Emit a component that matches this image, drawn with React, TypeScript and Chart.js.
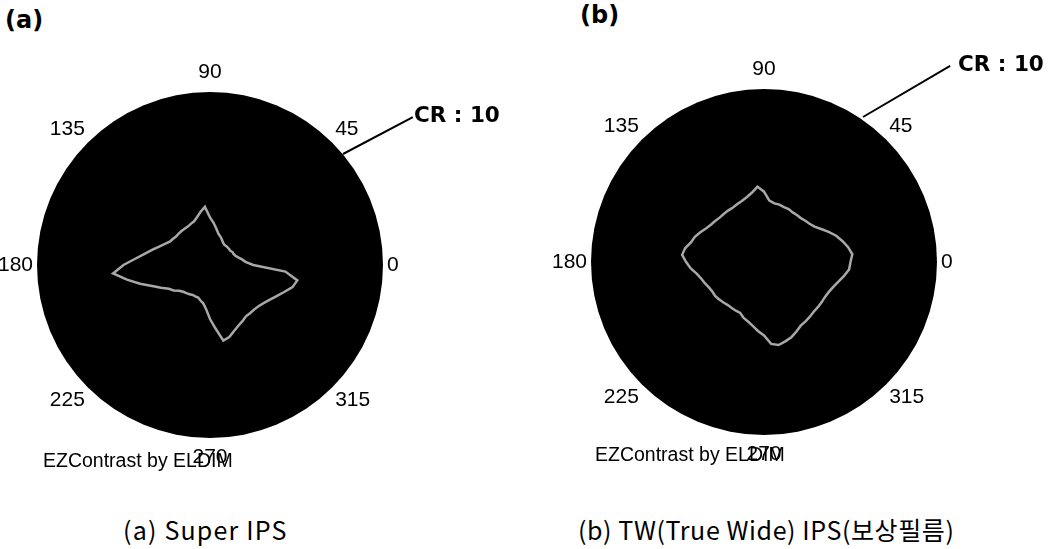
import React, { useEffect, useRef } from "react";
import { Chart, registerables } from "chart.js";

Chart.register(...registerables);

// Azimuth angles (degrees, counter-clockwise from 0 at the right)
const ANGLES = [
  0, 5, 10, 15, 20, 25, 30, 35, 40, 45, 50, 55, 60, 65, 70, 75, 80, 85,
  90, 95, 100, 105, 110, 115, 120, 125, 130, 135, 140, 145, 150, 155, 160, 165, 170, 175,
  180, 185, 190, 195, 200, 205, 210, 215, 220, 225, 230, 235, 240, 245, 250, 255, 260, 265,
  270, 275, 280, 285, 290, 295, 300, 305, 310, 315, 320, 325, 330, 335, 340, 345, 350, 355,
];

// CR = 10 iso-contrast contour: polar (viewing) angle in degrees at each azimuth
const SUPER_IPS = [
  20, 16.5, 15, 13.5, 12.5, 12, 12, 11.5, 11.5, 11.5, 11.5, 11.5, 12, 13, 14, 15, 17, 19.5,
  22, 27, 25, 23, 21.5, 21, 20.5, 20.5, 20.5, 20.5, 20.5, 21, 21.5, 23, 25, 27.5, 30.5, 34.5,
  40, 45, 39, 33.5, 28.5, 25, 22, 20.5, 18.5, 17.5, 17, 16.5, 16, 16, 16, 17, 18, 20.5,
  25, 29.5, 35.5, 34.5, 32.5, 31, 30, 29, 29, 29, 29.5, 30.5, 32, 34, 36.5, 39.5, 41, 35,
];

const TW_IPS = [
  40, 41, 39.5, 37.5, 35.5, 33, 30.5, 28.5, 27.5, 27, 26.5, 26.5, 26.5, 27, 27, 27.5, 27.5, 28.5,
  32.5, 35, 32.5, 31, 30, 29.5, 29, 29, 29, 29, 29.5, 30, 31, 32.5, 34, 35, 37, 38,
  36, 34, 31.5, 30, 29, 28, 27.5, 27.5, 27, 26.5, 26, 26, 26, 26, 27.5, 28.5, 30, 32,
  34, 38, 39, 38, 37, 35.5, 34, 33.5, 33, 32.5, 32.5, 32.5, 32.5, 33, 34, 35.5, 37.5, 39.5,
];

const ANGLE_TICKS = [0, 45, 90, 135, 180, 225, 270, 315];
const R_MAX = 80;

const diskPlugin = {
  id: "disk",
  beforeDatasetsDraw(chart: any) {
    const s = chart.scales.r;
    const ctx = chart.ctx;
    ctx.save();
    ctx.fillStyle = "#000";
    ctx.beginPath();
    ctx.arc(s.xCenter, s.yCenter, s.drawingArea, 0, Math.PI * 2);
    ctx.fill();
    ctx.restore();
  },
};

function PolarPlot({ values, left, top }: { values: number[]; left: number; top: number }) {
  const ref = useRef<HTMLCanvasElement | null>(null);
  useEffect(() => {
    if (!ref.current) return;
    const N = ANGLES.length;
    const start = ANGLES.indexOf(90);
    const order = ANGLES.map((_, k) => (start - k + N) % N);
    const labels = order.map((i) => ANGLES[i]);
    const data = order.map((i) => values[i]);
    const chart = new Chart(ref.current, {
      type: "radar",
      data: {
        labels,
        datasets: [
          {
            data,
            borderColor: "#a8a8a8",
            borderWidth: 2.5,
            pointRadius: 0,
            fill: false,
            tension: 0,
          },
        ],
      },
      options: {
        animation: false,
        responsive: false,
        devicePixelRatio: 1,
        layout: { padding: 0 },
        plugins: { legend: { display: false }, tooltip: { enabled: false } },
        scales: {
          r: {
            min: 0,
            max: R_MAX,
            startAngle: 0,
            grid: { display: false },
            angleLines: { display: false },
            ticks: { display: false },
            pointLabels: {
              display: true,
              padding: (ctx: any) => {
                const a = Number(ctx.label);
                return a === 90 || a === 270 ? 9 : 4;
              },
              color: "#000",
              font: {
                family: "'Liberation Sans', Arial, sans-serif",
                size: 21,
                lineHeight: 1,
              },
              callback: (l: any) => (ANGLE_TICKS.includes(Number(l)) ? String(l) : ""),
            },
          },
        },
      } as any,
      plugins: [diskPlugin],
    });
    return () => chart.destroy();
  }, [values]);
  return (
    <canvas
      ref={ref}
      width={500}
      height={406}
      style={{ position: "absolute", left, top, width: 500, height: 406 }}
    />
  );
}

function Line({ x1, y1, x2, y2 }: { x1: number; y1: number; x2: number; y2: number }) {
  const dx = x2 - x1;
  const dy = y2 - y1;
  const len = Math.sqrt(dx * dx + dy * dy);
  const ang = (Math.atan2(dy, dx) * 180) / Math.PI;
  return (
    <div
      style={{
        position: "absolute",
        left: x1,
        top: y1 - 1,
        width: len,
        height: 2,
        background: "#000",
        transformOrigin: "0 50%",
        transform: `rotate(${ang}deg)`,
      }}
    />
  );
}

const txt = (extra: React.CSSProperties): React.CSSProperties => ({
  position: "absolute",
  whiteSpace: "nowrap",
  lineHeight: 1,
  color: "#000",
  ...extra,
});

export default function App() {
  const bold = "'DejaVu Sans', Verdana, sans-serif";
  const small = "'Liberation Sans', Arial, sans-serif";
  const cap = "'Noto Sans CJK KR', 'Noto Sans', sans-serif";
  return (
    <div
      style={{
        position: "absolute",
        left: 0,
        top: 0,
        width: 1060,
        height: 549,
        background: "#fff",
        overflow: "hidden",
      }}
    >
      <PolarPlot values={SUPER_IPS} left={-40} top={62} />
      <PolarPlot values={TW_IPS} left={514} top={59} />

      <div style={txt({ left: 5, top: 8, fontFamily: bold, fontWeight: 700, fontSize: 24 })}>(a)</div>
      <div style={txt({ left: 580, top: 3, fontFamily: bold, fontWeight: 700, fontSize: 24 })}>(b)</div>

      <Line x1={343} y1={154} x2={413} y2={117} />
      <div style={txt({ left: 414, top: 104, fontFamily: bold, fontWeight: 700, fontSize: 21.5 })}>CR : 10</div>
      <Line x1={863} y1={117} x2={950} y2={66} />
      <div style={txt({ left: 958, top: 53, fontFamily: bold, fontWeight: 700, fontSize: 21.5 })}>CR : 10</div>

      <div style={txt({ left: 43, top: 451, fontFamily: small, fontSize: 19.5 })}>EZContrast by ELDIM</div>
      <div style={txt({ left: 595, top: 445, fontFamily: small, fontSize: 19.5 })}>EZContrast by ELDIM</div>

      <div style={txt({ left: 123, top: 517, fontFamily: cap, fontSize: 25, letterSpacing: 1.2 })}>(a) Super IPS</div>
      <div style={txt({ left: 578, top: 517, fontFamily: cap, fontSize: 25, letterSpacing: 0.6 })}>(b) TW(True Wide) IPS(보상필름)</div>
    </div>
  );
}
